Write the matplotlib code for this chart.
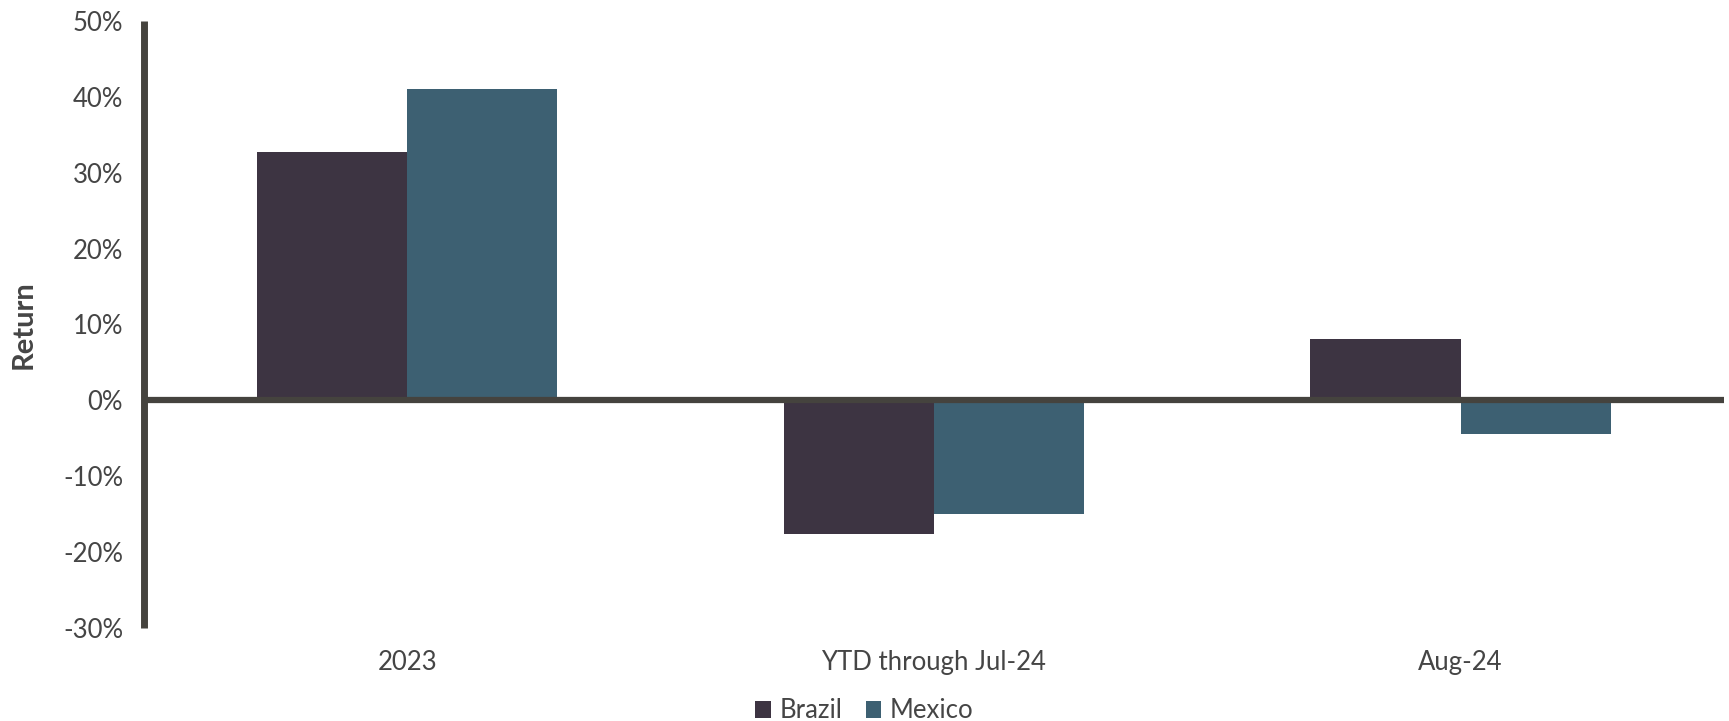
import numpy as np
import matplotlib
matplotlib.use("Agg")
import matplotlib.pyplot as plt
from matplotlib.ticker import FuncFormatter

plt.rcParams['font.family'] = ['Lato', 'DejaVu Sans']

categories = ["2023", "YTD through Jul-24", "Aug-24"]
brazil = [32.7, -17.6, 8.1]
mexico = [41.0, -15.0, -4.5]
series_names = ["Brazil", "Mexico"]
series_colors = ["#3d3442", "#3d6072"]

text_color = "#454545"
axis_color = "#45433e"

fig = plt.figure(figsize=(17.29, 7.21), dpi=100)
ax = fig.add_axes([0.0833, 0.129, 0.9137, 0.842])

x = np.arange(len(categories))
width = 0.285
ax.bar(x - width / 2, brazil, width, color=series_colors[0], label=series_names[0], zorder=2)
ax.bar(x + width / 2, mexico, width, color=series_colors[1], label=series_names[1], zorder=2)

# heavy zero line across the plot
ax.axhline(0, color=axis_color, lw=4.5, zorder=3)

ax.set_xlim(-0.5, 2.5)
ax.set_ylim(-30, 50)
ax.set_yticks(np.arange(-30, 51, 10))
ax.yaxis.set_major_formatter(FuncFormatter(lambda v, _: f"{v:.0f}%"))
ax.set_xticks(x)
ax.set_xticklabels(categories)

ax.tick_params(axis="both", length=0, labelsize=18.5, labelcolor=text_color)
ax.tick_params(axis="y", pad=15)
ax.tick_params(axis="x", pad=16)

for side in ["top", "right", "bottom"]:
    ax.spines[side].set_visible(False)
ax.spines["left"].set_linewidth(5)
ax.spines["left"].set_color(axis_color)
ax.spines["left"].set_capstyle("butt")

ax.set_ylabel("Return", fontsize=21, fontweight="bold", color=text_color)
ax.yaxis.set_label_coords(-0.068, 0.5)

fig.legend(loc="center", bbox_to_anchor=(0.5, 0.014), ncol=2, frameon=False,
           fontsize=18.5, handlelength=0.6, handleheight=0.6, handletextpad=0.35,
           columnspacing=0.9, labelcolor=text_color)

fig.savefig("out.png", dpi=100)
